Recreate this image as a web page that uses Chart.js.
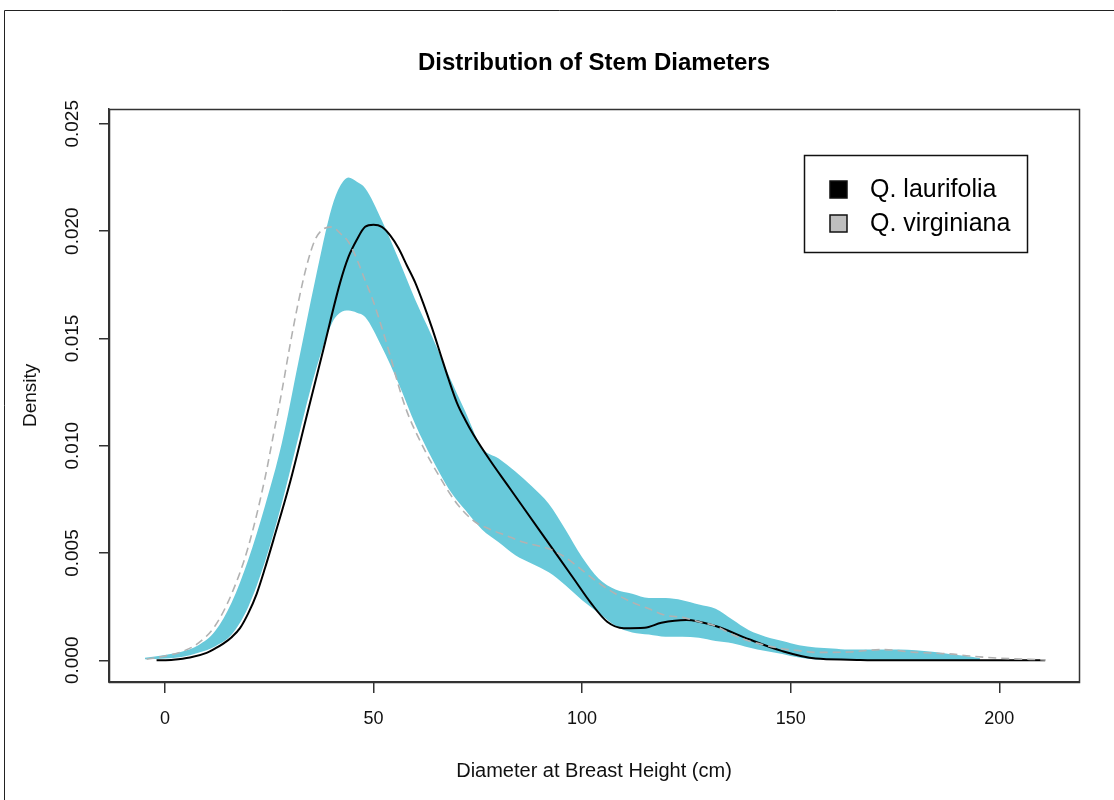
<!DOCTYPE html>
<html lang="en">
<head>
<meta charset="UTF-8">
<title>Distribution of Stem Diameters</title>
<script src="https://cdn.jsdelivr.net/npm/chart.js"></script>
<style>
  body { margin: 0; background: #fff; }
  canvas { display: block; }
</style>
</head>
<body>
<canvas id="stemChart" width="1114" height="800"></canvas>
<script>
// ---- data ----
// shaded band (same x grid for the upper and lower edge)
const bandX = [-4.8, 0, 4, 8, 12, 16, 20, 24, 28, 32, 36, 40, 42, 44, 46, 48, 52, 56, 60, 64, 68, 72,
  76, 80, 84, 88, 92, 96, 100, 104, 108, 112, 116, 120, 124, 128, 132, 136, 140, 144, 148, 152,
  156, 160, 164, 168, 172, 176, 180, 184, 188, 192, 195.4];
const bandUpper = [0.00012, 0.00025, 0.0004, 0.0007, 0.00135, 0.0027, 0.0047, 0.0072, 0.0101, 0.0139,
  0.0177, 0.0211, 0.0221, 0.0225, 0.0223, 0.022, 0.0205, 0.0187, 0.0168, 0.0151, 0.0133, 0.0116,
  0.0099, 0.0094, 0.0088, 0.0081, 0.0073, 0.0061, 0.0048, 0.0038, 0.0033, 0.0031,
  0.0029, 0.0029, 0.0028, 0.0026, 0.0024, 0.0019, 0.0014, 0.0011, 0.0009, 0.0007,
  0.0006, 0.00055, 0.0005, 0.0005, 0.0005, 0.0005, 0.00047, 0.0004, 0.0003, 0.0002, 0.0001];
const bandLower = [0.00005, 0.00008, 0.00015, 0.00035, 0.00065, 0.0012, 0.0025, 0.0046, 0.0073, 0.0104,
  0.0134, 0.0157, 0.0162, 0.0163, 0.0162, 0.016, 0.0146, 0.0129, 0.011, 0.0094, 0.008, 0.007,
  0.0061, 0.0055, 0.0049, 0.0045, 0.0041, 0.0035, 0.0028, 0.0022, 0.0016, 0.0013,
  0.0012, 0.0011, 0.0011, 0.00105, 0.0009, 0.0008, 0.0006, 0.00043, 0.0003, 0.00013,
  0.00004, 0.00002, 0.00001, 0.00001, 0.00001, 0.00001, 0.00001, 0.00001, 0.00001, 0.00001, 0.00001];

// Q. laurifolia (black solid)
const laurX = [-2, 2, 6, 10, 12, 14, 16, 18, 20, 22, 24, 26, 30, 34, 38, 42, 44, 46, 48, 50, 52,
  54, 56, 58, 60, 62, 64, 66, 68, 70, 72, 74, 78, 82, 86, 90, 94, 98, 102, 106, 110,
  115, 119, 125, 132, 140, 148, 156, 164, 172, 211];
const laurY = [0, 0.00003, 0.00013, 0.00035, 0.00055, 0.00078, 0.00108, 0.0015, 0.0022, 0.0031,
  0.0043, 0.0056, 0.0083, 0.0114, 0.0145, 0.0176, 0.0188, 0.0196, 0.0202, 0.0203, 0.0202,
  0.0198, 0.0192, 0.0184, 0.0176, 0.0166, 0.0155, 0.0143, 0.0131, 0.012, 0.0112,
  0.0105, 0.0093, 0.0082, 0.0071, 0.006, 0.0049, 0.0038, 0.0027, 0.0018, 0.0015,
  0.00152, 0.00175, 0.00188, 0.0016, 0.00098, 0.00043, 0.00008, 0.00003, 0, 0];

// Q. virginiana (grey dashed)
const virgX = [-4.4, 0, 4, 8, 12, 16, 20, 24, 26, 28, 30, 32, 34, 36, 38, 40, 42, 44, 46, 48,
  50, 52, 54, 56, 58, 62, 66, 70, 74, 78, 82, 86, 92, 96, 100, 104, 108, 112, 116, 120,
  124, 128, 132, 136, 140, 144, 148, 152, 156, 164, 172, 180, 188, 193, 200, 211];
const virgY = [0.00005, 0.0002, 0.0004, 0.0008, 0.0016, 0.0031, 0.0053, 0.0085, 0.0105, 0.0125,
  0.0147, 0.0167, 0.0184, 0.0196, 0.0201, 0.0202, 0.0199, 0.0195, 0.0187, 0.0177,
  0.0167, 0.0155, 0.0142, 0.0128, 0.0116, 0.0099, 0.0085, 0.0073, 0.0065, 0.0061,
  0.0058, 0.0055, 0.0052, 0.0048, 0.0042, 0.0036, 0.0031, 0.0027, 0.0024, 0.0021,
  0.002, 0.0018, 0.0016, 0.0012, 0.0009, 0.0007, 0.00054, 0.00045, 0.00037, 0.00039,
  0.0005, 0.00037, 0.0003, 0.0002, 0.0001, 0.00002];

const xTicks = [0, 50, 100, 150, 200];
const yTicks = [0, 0.005, 0.01, 0.015, 0.02, 0.025];
const yTickLabels = ['0.000', '0.005', '0.010', '0.015', '0.020', '0.025'];
const legendLabels = ['Q. laurifolia', 'Q. virginiana'];
const legendFills = ['#000000', '#bebebe'];

const FONT = "'Liberation Sans', Arial, Helvetica, sans-serif";
const AXIS = '#333333';

const toPoints = (xs, ys) => xs.map((x, i) => ({ x: x, y: ys[i] }));

// box round the plot, outer frame and the legend
const framePlugin = {
  id: 'framePlugin',
  beforeDraw(chart) {
    const ctx = chart.ctx;
    ctx.save();
    ctx.fillStyle = '#ffffff';
    ctx.fillRect(0, 0, chart.width, chart.height);
    ctx.restore();
  },
  afterDraw(chart) {
    const { ctx, chartArea: a } = chart;
    ctx.save();
    ctx.strokeStyle = AXIS;
    ctx.lineWidth = 1.5;
    ctx.strokeRect(Math.round(a.left) + 0.5, Math.round(a.top) + 0.5,
      Math.round(a.right - a.left), Math.round(a.bottom - a.top));

    // outer image frame (top and left edges only)
    ctx.lineWidth = 1;
    ctx.strokeStyle = '#222';
    ctx.beginPath();
    ctx.moveTo(4.5, chart.height);
    ctx.lineTo(4.5, 10.5);
    ctx.lineTo(chart.width, 10.5);
    ctx.stroke();

    // legend
    const lx = 804, ly = 155, lw = 223, lh = 97;
    ctx.fillStyle = '#fff';
    ctx.fillRect(lx, ly, lw, lh);
    ctx.strokeStyle = '#111';
    ctx.lineWidth = 1.5;
    ctx.strokeRect(lx + 0.5, ly + 0.5, lw, lh);
    ctx.font = '25px ' + FONT;
    ctx.textBaseline = 'middle';
    ctx.textAlign = 'left';
    legendLabels.forEach((label, i) => {
      const cy = 189 + i * 34;
      ctx.fillStyle = legendFills[i];
      ctx.fillRect(830, cy - 8, 17, 17);
      ctx.strokeStyle = '#111';
      ctx.lineWidth = 1.5;
      ctx.strokeRect(830, cy - 8, 17, 17);
      ctx.fillStyle = '#000';
      ctx.fillText(label, 870, cy + 1);
    });
    ctx.restore();
  }
};

new Chart(document.getElementById('stemChart'), {
  type: 'line',
  data: {
    datasets: [{
      label: 'Q. virginiana',
      data: toPoints(virgX, virgY),
      borderColor: '#b2b2b2',
      borderWidth: 1.6,
      borderDash: [8, 5],
      pointRadius: 0,
      fill: false,
      cubicInterpolationMode: 'monotone'
    }, {
      label: 'Q. laurifolia',
      data: toPoints(laurX, laurY),
      borderColor: '#000000',
      borderWidth: 2,
      pointRadius: 0,
      fill: false,
      cubicInterpolationMode: 'monotone'
    }, {
      label: 'band upper',
      data: toPoints(bandX, bandUpper),
      borderWidth: 0,
      borderColor: 'rgba(0,0,0,0)',
      backgroundColor: 'rgb(104, 201, 218)',
      pointRadius: 0,
      fill: '+1',
      cubicInterpolationMode: 'monotone'
    }, {
      label: 'band lower',
      data: toPoints(bandX, bandLower),
      borderWidth: 0,
      borderColor: 'rgba(0,0,0,0)',
      pointRadius: 0,
      fill: false,
      cubicInterpolationMode: 'monotone'
    }]
  },
  options: {
    responsive: false,
    animation: false,
    events: [],
    layout: { padding: { top: 0, left: 0, right: 35, bottom: 0 } },
    plugins: {
      legend: { display: false },
      tooltip: { enabled: false },
      title: {
        display: true,
        fullSize: false,
        text: 'Distribution of Stem Diameters',
        color: '#000',
        font: { family: FONT, size: 24, weight: 'bold', lineHeight: 1.2 },
        padding: { top: 49, bottom: 31 }
      }
    },
    scales: {
      x: {
        type: 'linear',
        min: -13.4,
        max: 219.1,
        afterFit(scale) { scale.height = 118; },
        afterBuildTicks(scale) { scale.ticks = xTicks.map(v => ({ value: v })); },
        grid: { display: true, drawOnChartArea: false, drawTicks: true, tickLength: 11, color: AXIS, lineWidth: 1.5 },
        border: { display: true, color: AXIS, width: 1.5 },
        ticks: {
          color: '#111',
          padding: 15,
          maxRotation: 0,
          font: { family: FONT, size: 18 },
          callback: v => String(v)
        },
        title: {
          display: true,
          text: 'Diameter at Breast Height (cm)',
          color: '#111',
          font: { family: FONT, size: 20, lineHeight: 1.2 },
          padding: { top: 0, bottom: 17 }
        }
      },
      y: {
        type: 'linear',
        min: -0.00101,
        max: 0.0257,
        afterFit(scale) { scale.width = 109; },
        afterBuildTicks(scale) { scale.ticks = yTicks.map(v => ({ value: v })); },
        grid: { display: true, drawOnChartArea: false, drawTicks: true, tickLength: 10, color: AXIS, lineWidth: 1.5 },
        border: { display: true, color: AXIS, width: 1.5 },
        ticks: {
          color: '#111',
          padding: 2,
          minRotation: 90,
          maxRotation: 90,
          crossAlign: 'center',
          font: { family: FONT, size: 19 },
          callback: (v) => yTickLabels[yTicks.indexOf(v)]
        },
        title: {
          display: true,
          text: 'Density',
          color: '#111',
          font: { family: FONT, size: 19, lineHeight: 1.2 },
          padding: { top: 19, bottom: 0 }
        }
      }
    }
  },
  plugins: [framePlugin]
});
</script>
</body>
</html>
